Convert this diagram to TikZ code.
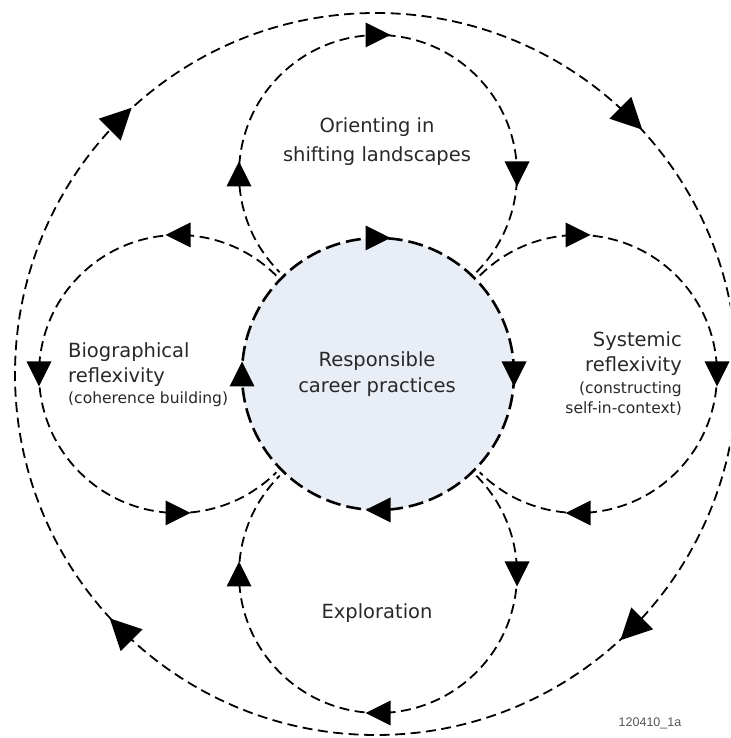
\documentclass[tikz,border=0pt]{standalone}
\usepackage{fontspec}
\setmainfont{DejaVu Sans}
\newfontfamily\idfont{Liberation Sans}
\definecolor{corefill}{RGB}{232,237,246}
\definecolor{txt}{RGB}{40,40,40}
\definecolor{idgray}{RGB}{85,85,85}
\begin{document}
\begin{tikzpicture}[x=1pt,y=1pt,
  loopline/.style={line width=1.8pt, dash pattern=on 10pt off 5.5pt},
  coreline/.style={line width=2.6pt, dash pattern=on 15pt off 6pt},
  tri/.pic={\fill[black] (12.5,0) -- (-12.5,12.5) -- (-12.5,-12.5) -- cycle;},
  bigtri/.pic={\fill[black] (15.5,0) -- (-15.5,15.5) -- (-15.5,-15.5) -- cycle;},
  big/.style={text=txt, font=\fontsize{19.5}{24}\selectfont, inner sep=0pt, anchor=base},
  small/.style={text=txt, font=\fontsize{15.5}{19}\selectfont, inner sep=0pt, anchor=base},
]
\useasboundingbox (0,0) rectangle (730,738);
\clip (0,0) rectangle (730,738);
\coordinate (cC) at (378,364);
\coordinate (cT) at (378,564);
\coordinate (cB) at (378,164);
\coordinate (cL) at (178,364);
\coordinate (cR) at (578,364);
\coordinate (cO) at (376,364);
% outer cycle
\draw[loopline] (cO) circle[radius=361];
% four loops
\draw[loopline] (cT) ++(-45:139) arc[start angle=-45, end angle=225, radius=139];
\draw[loopline] (cB) ++(45:139) arc[start angle=45, end angle=-225, radius=139];
\draw[loopline] (cL) ++(45:139) arc[start angle=45, end angle=315, radius=139];
\draw[loopline] (cR) ++(135:139) arc[start angle=135, end angle=-135, radius=139];
% core
\fill[corefill] (cC) circle[radius=136];
\draw[coreline] (cC) circle[radius=136];
% arrows on core (clockwise)
\pic[rotate=0] at (378,500) {tri};
\pic[rotate=-90] at (514,364) {tri};
\pic[rotate=180] at (378,228) {tri};
\pic[rotate=90] at (242,364) {tri};
% top loop
\pic[rotate=0] at (378,703) {tri};
\pic[rotate=-90] at (517,564) {tri};
\pic[rotate=90] at (239,564) {tri};
% bottom loop
\pic[rotate=-90] at (517,164) {tri};
\pic[rotate=180] at (378,25) {tri};
\pic[rotate=90] at (239,164) {tri};
% left loop
\pic[rotate=180] at (178,503) {tri};
\pic[rotate=-90] at (39,364) {tri};
\pic[rotate=0] at (178,225) {tri};
% right loop
\pic[rotate=0] at (578,503) {tri};
\pic[rotate=-90] at (717,364) {tri};
\pic[rotate=180] at (578,225) {tri};
% outer arrows
\pic[rotate=45] at (120.7,619.3) {bigtri};
\pic[rotate=-45] at (631.3,619.3) {bigtri};
\pic[rotate=-135] at (631.3,108.7) {bigtri};
\pic[rotate=135] at (120.7,108.7) {bigtri};
% labels
\node[big] (or1) at (377,605) {Orienting in};
\node[big] (or2) at (377,576) {shifting landscapes};
\node[big] (rc1) at (377,371) {Responsible};
\node[big] (rc2) at (377,345) {career practices};
\node[big, anchor=base west] (bi1) at (68,380) {Biographical};
\node[big, anchor=base west] (bi2) at (68,355) {reflexivity};
\node[small, anchor=base west] (bi3) at (68,334) {(coherence building)};
\node[big, anchor=base east] (sy1) at (682,391) {Systemic};
\node[big, anchor=base east] (sy2) at (682,366) {reflexivity};
\node[small, anchor=base east] (sy3) at (682,344) {(constructing};
\node[small, anchor=base east] (sy4) at (682,324) {self-in-context)};
\node[big] (ex) at (377,119) {Exploration};
\node[text=idgray, font=\idfont\fontsize{12.5}{15}\selectfont, inner sep=0pt, anchor=base] (id) at (650,11) {120410\_1a};
\end{tikzpicture}
\end{document}
